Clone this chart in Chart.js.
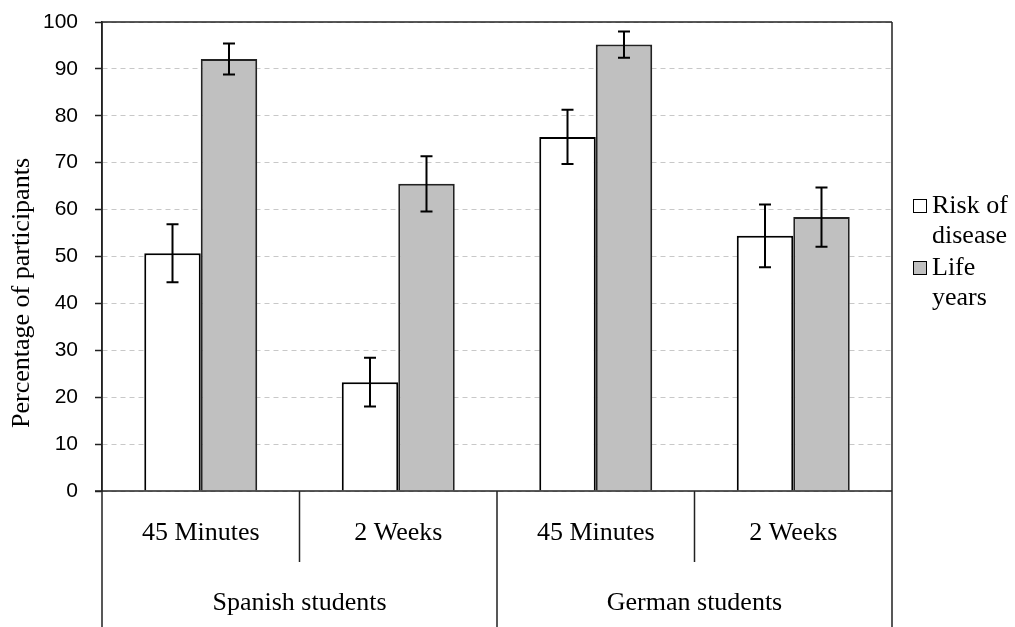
<!DOCTYPE html>
<html>

<head>
	<meta charset="utf-8">
	<title>Percentage of participants</title>
	<style>
		body { margin: 0; background: #fff; }
		#wrap { position: relative; width: 1015px; height: 627px; }
		#legend {
			position: absolute; left: 912px; top: 190px;
			font-family: 'Liberation Serif', 'Times New Roman', serif;
			font-size: 26px; line-height: 30px; color: #000;
		}
		.item { position: relative; padding-left: 20px; margin-bottom: 2px; }
		.box {
			position: absolute; left: 1px; top: 9px; width: 12px; height: 12px;
			border: 1px solid #000;
		}
	</style>
</head>

<body>
	<div id="wrap">
		<canvas id="myChart" width="1015" height="627"></canvas>
		<div id="legend"></div>
	</div>

	<script src="https://cdn.jsdelivr.net/npm/chart.js@4/dist/chart.umd.min.js"></script>
	<script>
		// data
		const categories = ['45 Minutes', '2 Weeks', '45 Minutes', '2 Weeks'];
		const groups = ['Spanish students', 'German students'];
		const riskValues = [50.7, 23.2, 75.5, 54.4];
		const riskErrors = [6.2, 5.2, 5.8, 6.7];
		const lifeValues = [92.1, 65.5, 95.2, 58.4];
		const lifeErrors = [3.3, 5.9, 2.8, 6.3];
		const yTicks = [0, 10, 20, 30, 40, 50, 60, 70, 80, 90, 100];

		const serif = "'Liberation Serif', 'Times New Roman', serif";
		const errors = [riskErrors, lifeErrors];

		// error bars on top of the bars
		const errorBars = {
			id: 'errorBars',
			afterDatasetsDraw(chart) {
				const ctx = chart.ctx;
				const y = chart.scales.y;
				ctx.save();
				ctx.strokeStyle = '#000';
				ctx.lineWidth = 2;
				chart.data.datasets.forEach(function (ds, d) {
					const meta = chart.getDatasetMeta(d);
					meta.data.forEach(function (bar, i) {
						const v = ds.data[i];
						const e = errors[d][i];
						const yTop = y.getPixelForValue(v + e);
						const yBot = y.getPixelForValue(v - e);
						ctx.beginPath();
						ctx.moveTo(bar.x, yTop); ctx.lineTo(bar.x, yBot);
						ctx.moveTo(bar.x - 6, yTop); ctx.lineTo(bar.x + 6, yTop);
						ctx.moveTo(bar.x - 6, yBot); ctx.lineTo(bar.x + 6, yBot);
						ctx.stroke();
					});
				});
				ctx.restore();
			}
		};

		// frame, two level category axis and y title
		const frameAxis = {
			id: 'frameAxis',
			afterDraw(chart) {
				const ctx = chart.ctx;
				const a = chart.chartArea;
				const x = chart.scales.x;
				const H = chart.height;
				const step = (a.right - a.left) / categories.length;
				ctx.save();
				ctx.strokeStyle = '#222';
				ctx.lineWidth = 1.5;
				ctx.beginPath();
				ctx.moveTo(a.left, a.top); ctx.lineTo(a.right, a.top);
				ctx.moveTo(a.left - 7, a.bottom); ctx.lineTo(a.right, a.bottom);
				for (let i = 0; i <= categories.length; i++) {
					const px = a.left + i * step;
					ctx.moveTo(px, i == 0 || i == categories.length ? a.top : a.bottom);
					ctx.lineTo(px, i % 2 == 0 ? H : a.bottom + 71);
				}
				ctx.stroke();

				ctx.fillStyle = '#000';
				ctx.font = '26px ' + serif;
				ctx.textAlign = 'center';
				ctx.textBaseline = 'middle';
				categories.forEach(function (c, i) {
					ctx.fillText(c, x.getPixelForValue(i), a.bottom + 42);
				});
				groups.forEach(function (g, i) {
					const mid = (x.getPixelForValue(i * 2) + x.getPixelForValue(i * 2 + 1)) / 2;
					ctx.fillText(g, mid, a.bottom + 112);
				});

				ctx.translate(22, 293);
				ctx.rotate(-Math.PI / 2);
				ctx.fillText('Percentage of participants', 0, 0);
				ctx.restore();
			}
		};

		const data = {
			labels: categories,
			datasets: [{
				label: 'Risk of disease',
				data: riskValues,
				backgroundColor: '#ffffff',
				borderColor: '#000',
				borderWidth: 2
			}, {
				label: 'Life years',
				data: lifeValues,
				backgroundColor: '#c0c0c0',
				borderColor: '#222',
				borderWidth: 2
			}]
		};

		const config = {
			type: 'bar',
			data: data,
			options: {
				responsive: false,
				animation: false,
				layout: { padding: { left: 0, right: 123, top: 22, bottom: 136 } },
				categoryPercentage: 0.572,
				barPercentage: 1,
				plugins: {
					legend: { display: false },
					tooltip: { enabled: false }
				},
				scales: {
					x: { display: false },
					y: {
						min: 0,
						max: 100,
						afterFit: function (scale) {
							scale.width = 102;
							scale.paddingTop = 0;
							scale.paddingBottom = 0;
						},
						afterBuildTicks: function (scale) {
							scale.ticks = yTicks.map(function (v) { return { value: v }; });
						},
						border: { display: true, color: '#222', width: 1.5, dash: [5, 4] },
						grid: {
							color: '#c8c8c8',
							lineWidth: 1,
							tickColor: '#222',
							tickLength: 7,
							tickWidth: 1.5,
							tickBorderDash: []
						},
						ticks: {
							color: '#000',
							padding: 17,
							font: { family: "'Liberation Sans', Arial, sans-serif", size: 21 }
						}
					}
				}
			},
			plugins: [errorBars, frameAxis]
		};

		const myChart = new Chart(document.getElementById('myChart'), config);

		// html legend, text lines as in the picture
		const legendLines = [['Risk of', 'disease'], ['Life', 'years']];
		const legend = document.getElementById('legend');
		data.datasets.forEach(function (ds, i) {
			const item = document.createElement('div');
			item.className = 'item';
			item.innerHTML = '<span class="box" style="background:' + ds.backgroundColor + '"></span>' +
				legendLines[i].join('<br>');
			legend.appendChild(item);
		});
	</script>
</body>

</html>
